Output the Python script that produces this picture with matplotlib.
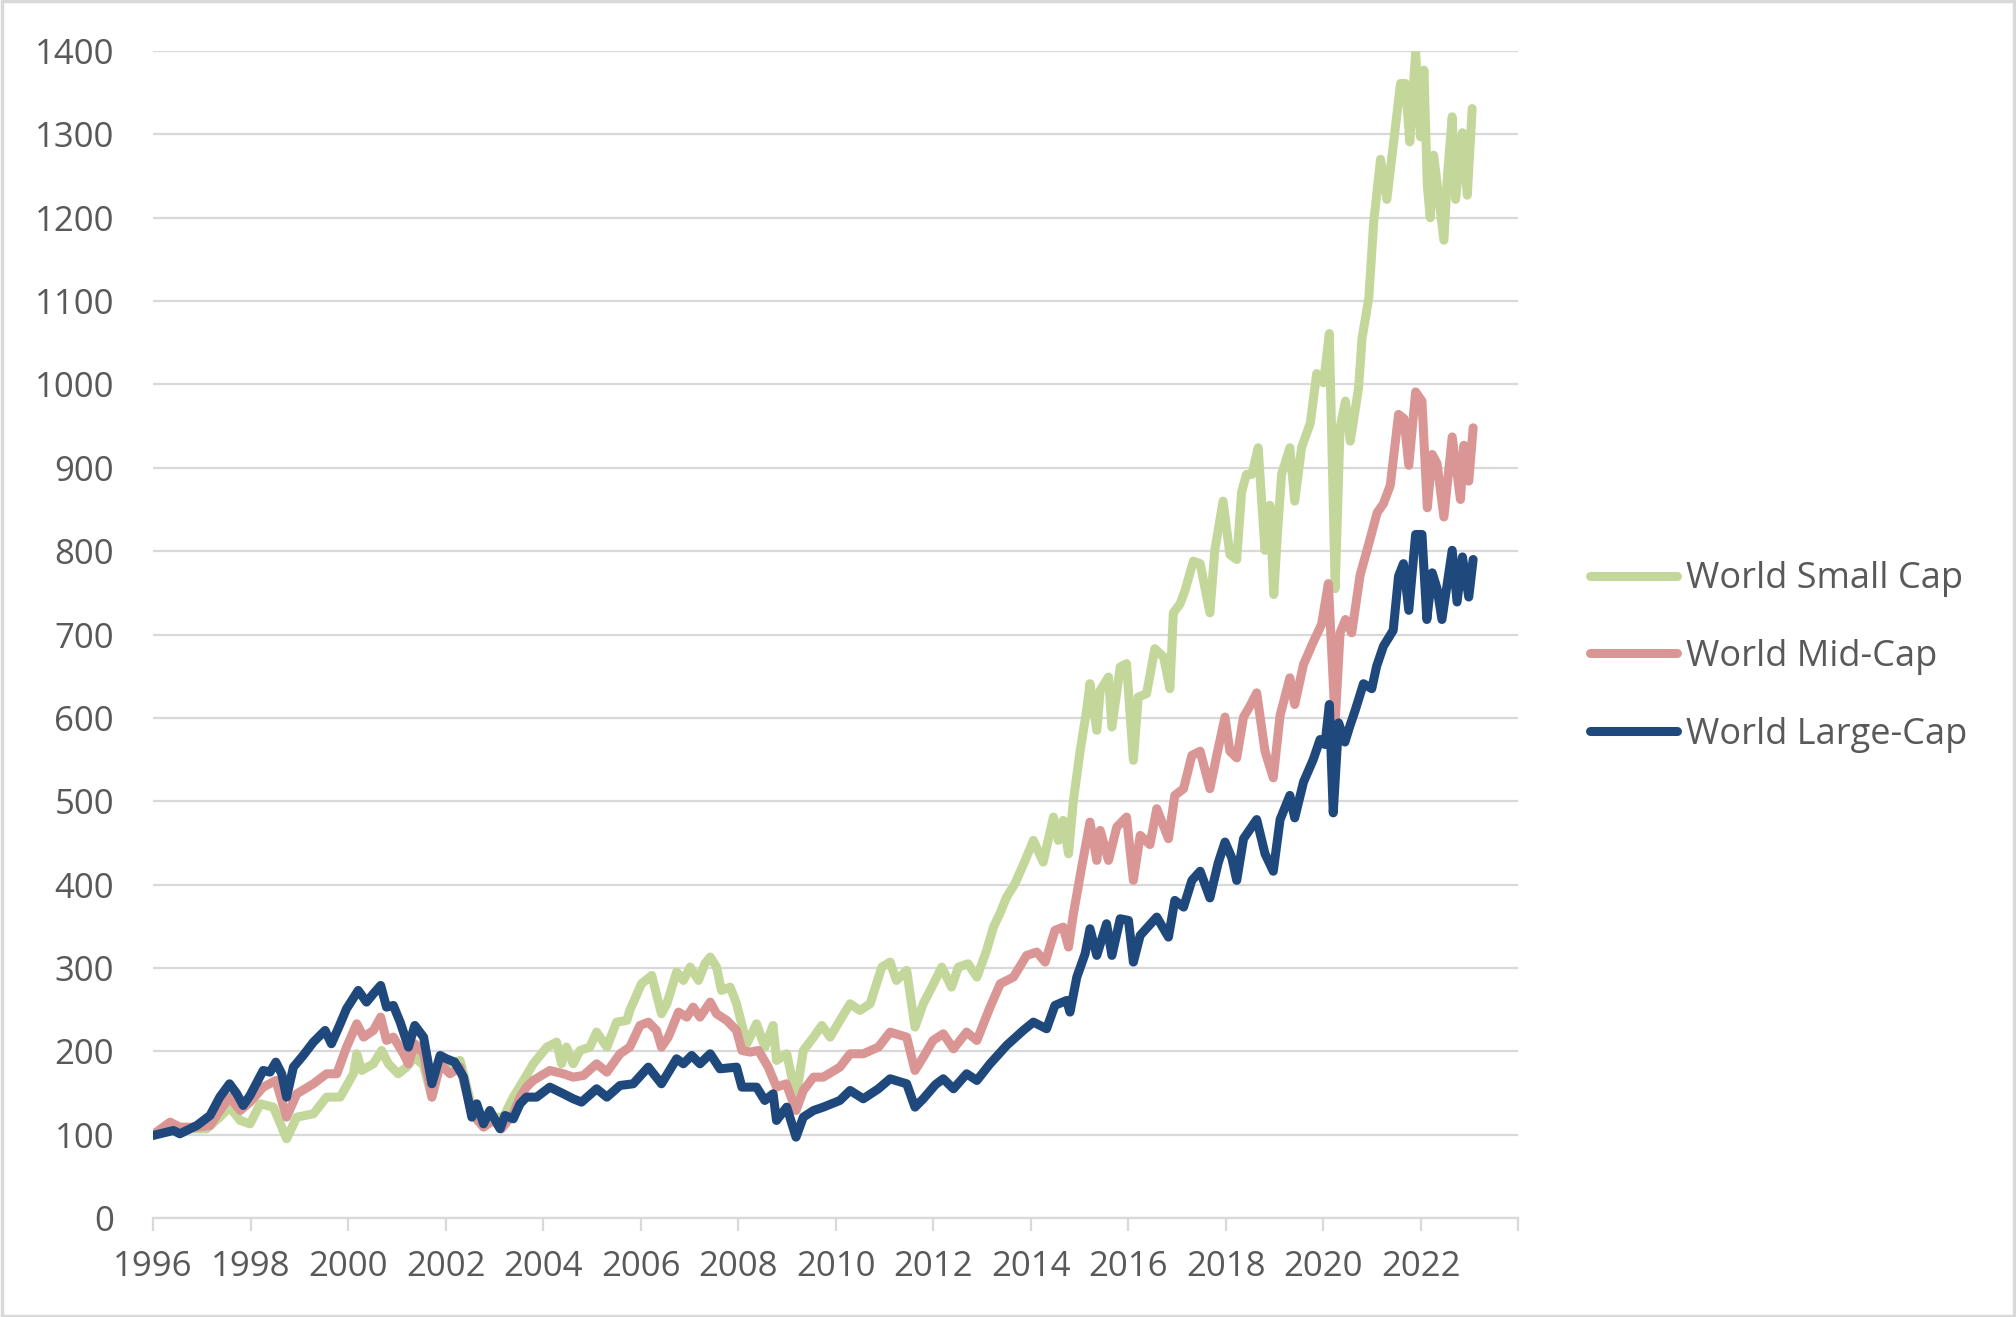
import matplotlib
matplotlib.use('Agg')
import matplotlib.pyplot as plt
from matplotlib.patches import Rectangle

# values (index level, start = 100)
small_dates = [1996.0, 1996.55, 1997.1, 1997.37, 1997.57, 1997.79, 1997.99, 1998.2, 1998.47, 1998.74,
               1998.95, 1999.29, 1999.56, 1999.84, 2000.11, 2000.18, 2000.28, 2000.52, 2000.69, 2000.83,
               2001.03, 2001.2, 2001.37, 2001.55, 2001.72, 2001.89, 2002.3, 2002.54, 2002.78, 2002.98,
               2003.19, 2003.39, 2003.6, 2003.8, 2004.08, 2004.28, 2004.38, 2004.48, 2004.62, 2004.76,
               2004.96, 2005.1, 2005.31, 2005.51, 2005.72, 2005.78, 2006.02, 2006.23, 2006.43, 2006.54,
               2006.74, 2006.88, 2007.02, 2007.19, 2007.32, 2007.43, 2007.56, 2007.66, 2007.84, 2007.97,
               2008.18, 2008.38, 2008.55, 2008.72, 2008.79, 2009.0, 2009.19, 2009.34, 2009.55, 2009.72,
               2009.89, 2010.09, 2010.3, 2010.5, 2010.71, 2010.95, 2011.12, 2011.25, 2011.46, 2011.63,
               2011.8, 2012.01, 2012.18, 2012.38, 2012.52, 2012.72, 2012.9, 2013.1, 2013.24, 2013.37,
               2013.51, 2013.68, 2013.89, 2014.06, 2014.26, 2014.47, 2014.57, 2014.67, 2014.78, 2014.88,
               2015.02, 2015.15, 2015.22, 2015.36, 2015.43, 2015.6, 2015.67, 2015.84, 2015.97, 2016.11,
               2016.21, 2016.38, 2016.55, 2016.73, 2016.86, 2016.93, 2017.07, 2017.17, 2017.34, 2017.48,
               2017.68, 2017.78, 2017.95, 2018.09, 2018.23, 2018.33, 2018.43, 2018.54, 2018.67, 2018.81,
               2018.91, 2018.99, 2019.07, 2019.15, 2019.32, 2019.42, 2019.56, 2019.74, 2019.87, 2020.01,
               2020.13, 2020.25, 2020.35, 2020.46, 2020.56, 2020.73, 2020.8, 2020.94, 2021.04, 2021.18,
               2021.31, 2021.45, 2021.59, 2021.69, 2021.78, 2021.9, 2022.0, 2022.07, 2022.14, 2022.2,
               2022.27, 2022.38, 2022.48, 2022.55, 2022.65, 2022.72, 2022.86, 2022.96, 2023.06]
small_vals = [100, 107, 107, 121, 133, 117, 113, 137, 133, 95,
              121, 125, 145, 145, 173, 197, 177, 185, 201, 185,
              173, 181, 193, 183, 145, 183, 189, 133, 117, 121,
              121, 145, 165, 185, 205, 211, 185, 205, 185, 201,
              205, 223, 205, 235, 237, 249, 281, 291, 245, 257,
              295, 285, 301, 285, 305, 313, 301, 273, 277, 257,
              209, 233, 205, 231, 189, 197, 145, 201, 217, 231,
              217, 237, 257, 249, 257, 301, 307, 285, 297, 229,
              257, 281, 301, 277, 301, 305, 289, 321, 349, 365,
              385, 401, 429, 453, 427, 481, 453, 477, 437, 501,
              561, 609, 641, 585, 633, 649, 589, 661, 665, 549,
              625, 629, 683, 673, 635, 726, 737, 753, 788, 785,
              726, 801, 860, 796, 790, 871, 892, 892, 924, 801,
              855, 748, 825, 892, 924, 860, 924, 954, 1013, 1002,
              1061, 755, 948, 980, 932, 996, 1055, 1104, 1195, 1270,
              1222, 1291, 1361, 1361, 1291, 1398, 1297, 1377, 1238, 1200,
              1275, 1222, 1173, 1248, 1321, 1222, 1302, 1227, 1331]

mid_dates = [1996.0, 1996.35, 1996.55, 1996.9, 1997.17, 1997.37, 1997.57, 1997.79, 1997.99, 1998.26,
             1998.52, 1998.74, 1998.95, 1999.29, 1999.56, 1999.77, 1999.97, 2000.18, 2000.32, 2000.52,
             2000.67, 2000.79, 2000.93, 2001.14, 2001.24, 2001.37, 2001.55, 2001.72, 2001.89, 2002.09,
             2002.3, 2002.54, 2002.78, 2002.98, 2003.15, 2003.39, 2003.53, 2003.66, 2003.8, 2004.14,
             2004.42, 2004.62, 2004.83, 2005.1, 2005.31, 2005.58, 2005.78, 2005.99, 2006.16, 2006.33,
             2006.43, 2006.57, 2006.78, 2006.95, 2007.08, 2007.22, 2007.43, 2007.56, 2007.77, 2007.97,
             2008.08, 2008.25, 2008.42, 2008.62, 2008.79, 2008.99, 2009.19, 2009.34, 2009.55, 2009.75,
             2010.09, 2010.3, 2010.57, 2010.88, 2011.12, 2011.46, 2011.63, 2011.8, 2012.0, 2012.21,
             2012.42, 2012.69, 2012.9, 2013.17, 2013.38, 2013.65, 2013.92, 2014.13, 2014.3, 2014.5,
             2014.67, 2014.78, 2014.88, 2015.05, 2015.22, 2015.36, 2015.43, 2015.6, 2015.77, 2015.97,
             2016.11, 2016.25, 2016.45, 2016.59, 2016.83, 2016.96, 2017.14, 2017.31, 2017.48, 2017.68,
             2017.82, 2017.99, 2018.09, 2018.23, 2018.37, 2018.5, 2018.64, 2018.81, 2018.98, 2019.12,
             2019.32, 2019.42, 2019.6, 2019.8, 2019.97, 2020.11, 2020.25, 2020.35, 2020.46, 2020.59,
             2020.76, 2020.94, 2021.11, 2021.24, 2021.38, 2021.55, 2021.66, 2021.76, 2021.9, 2022.03,
             2022.14, 2022.24, 2022.34, 2022.48, 2022.65, 2022.82, 2022.89, 2022.99, 2023.08]
mid_vals = [100, 115, 109, 109, 111, 129, 145, 129, 139, 157,
            165, 121, 149, 161, 173, 173, 205, 233, 217, 225,
            241, 213, 217, 197, 185, 209, 197, 145, 185, 173,
            181, 125, 109, 117, 107, 125, 145, 157, 165, 177,
            173, 169, 171, 185, 175, 197, 205, 231, 235, 225,
            205, 217, 247, 241, 253, 241, 259, 245, 237, 225,
            201, 199, 201, 181, 157, 161, 129, 153, 169, 169,
            181, 197, 197, 205, 223, 217, 177, 193, 213, 221,
            203, 223, 213, 253, 281, 289, 315, 319, 307, 345,
            349, 325, 365, 421, 475, 429, 465, 429, 469, 481,
            405, 459, 448, 491, 455, 507, 515, 555, 560, 515,
            555, 601, 560, 552, 601, 614, 630, 560, 528, 603,
            648, 616, 664, 691, 712, 761, 595, 702, 718, 702,
            771, 809, 846, 857, 879, 964, 959, 903, 991, 980,
            852, 916, 905, 841, 937, 862, 927, 884, 948]

large_dates = [1996.0, 1996.42, 1996.55, 1996.9, 1997.17, 1997.37, 1997.57, 1997.72, 1997.85, 1997.99,
               1998.26, 1998.4, 1998.52, 1998.64, 1998.74, 1998.88, 1999.08, 1999.29, 1999.53, 1999.66,
               1999.84, 1999.97, 2000.21, 2000.38, 2000.52, 2000.67, 2000.79, 2000.93, 2001.07, 2001.24,
               2001.37, 2001.55, 2001.72, 2001.89, 2002.02, 2002.19, 2002.37, 2002.54, 2002.64, 2002.78,
               2002.91, 2003.12, 2003.22, 2003.39, 2003.53, 2003.66, 2003.87, 2004.14, 2004.42, 2004.62,
               2004.79, 2005.1, 2005.31, 2005.58, 2005.85, 2006.16, 2006.43, 2006.74, 2006.88, 2007.05,
               2007.22, 2007.43, 2007.63, 2007.97, 2008.08, 2008.38, 2008.55, 2008.72, 2008.79, 2009.0,
               2009.19, 2009.34, 2009.55, 2009.75, 2010.09, 2010.3, 2010.57, 2010.88, 2011.12, 2011.46,
               2011.63, 2011.8, 2012.05, 2012.21, 2012.42, 2012.69, 2012.9, 2013.17, 2013.51, 2013.85,
               2014.06, 2014.33, 2014.5, 2014.74, 2014.81, 2014.95, 2015.12, 2015.22, 2015.36, 2015.56,
               2015.67, 2015.84, 2016.01, 2016.11, 2016.25, 2016.59, 2016.83, 2016.96, 2017.14, 2017.31,
               2017.48, 2017.68, 2017.85, 2017.99, 2018.13, 2018.23, 2018.37, 2018.64, 2018.81, 2018.98,
               2019.12, 2019.32, 2019.42, 2019.6, 2019.8, 2019.94, 2020.04, 2020.13, 2020.21, 2020.32,
               2020.45, 2020.55, 2020.66, 2020.83, 2021.0, 2021.1, 2021.24, 2021.44, 2021.55, 2021.65,
               2021.76, 2021.9, 2022.03, 2022.13, 2022.24, 2022.34, 2022.44, 2022.65, 2022.75, 2022.86,
               2022.99, 2023.08]
large_vals = [99, 105, 101, 111, 123, 145, 161, 149, 135, 147,
              177, 175, 187, 173, 145, 181, 195, 211, 225, 209,
              233, 251, 273, 259, 269, 279, 253, 255, 235, 205,
              231, 217, 161, 195, 191, 187, 169, 121, 137, 113,
              129, 107, 123, 119, 137, 145, 145, 157, 149, 143,
              139, 155, 145, 159, 161, 181, 161, 191, 185, 195,
              185, 197, 179, 181, 157, 157, 141, 149, 117, 133,
              97, 121, 129, 133, 141, 153, 143, 155, 167, 161,
              133, 143, 160, 167, 155, 173, 165, 185, 207, 225,
              235, 227, 255, 261, 247, 289, 317, 347, 315, 353,
              315, 359, 357, 307, 339, 361, 337, 381, 373, 405,
              416, 384, 426, 451, 432, 405, 455, 478, 437, 416,
              478, 507, 480, 523, 550, 574, 568, 616, 486, 594,
              571, 590, 609, 641, 635, 662, 686, 705, 770, 785,
              729, 820, 820, 718, 774, 755, 718, 801, 739, 793,
              745, 790]

series_names = ['World Small Cap', 'World Mid-Cap', 'World Large-Cap']
series_colors = ['#C4D79B', '#DA9694', '#1F497D']

year_ticks = list(range(1996, 2025, 2))
year_labels = [str(y) if y < 2024 else '' for y in year_ticks]
value_ticks = list(range(0, 1401, 100))

plt.rcParams['font.family'] = ['Open Sans', 'DejaVu Sans']
text_color = '#595959'
grid_color = '#D9D9D9'

fig = plt.figure(figsize=(20.16, 13.17), dpi=100)
ax = fig.add_axes([153 / 2016, 1 - 1218 / 1317, (1518 - 153) / 2016, (1218 - 51) / 1317])

for d, v, name, c in zip([small_dates, mid_dates, large_dates],
                         [small_vals, mid_vals, large_vals],
                         series_names, series_colors):
    ax.plot(d, v, color=c, lw=6.5, label=name, solid_joinstyle='round', solid_capstyle='round')

ax.set_xlim(1996, 2024)
ax.set_ylim(0, 1400)
ax.set_xticks(year_ticks)
ax.set_xticklabels(year_labels)
ax.set_yticks(value_ticks)

ax.yaxis.grid(True, color=grid_color, lw=1.6)
ax.set_axisbelow(True)
for s in ['top', 'right', 'left']:
    ax.spines[s].set_visible(False)
ax.spines['bottom'].set_color(grid_color)
ax.spines['bottom'].set_linewidth(1.6)

ax.tick_params(axis='x', colors=grid_color, length=9, width=1.6, direction='out',
               labelcolor=text_color, labelsize=25, pad=14)
ax.tick_params(axis='y', length=0, labelcolor=text_color, labelsize=25, pad=28)

fig.legend(loc='center left', bbox_to_anchor=(1590 / 2016, 1 - 657 / 1317),
           frameon=False, fontsize=26, handlelength=2.4, handletextpad=0.25,
           labelspacing=1.15, borderpad=0, borderaxespad=0, labelcolor=text_color)

# light frame around the whole chart
fig.patches.append(Rectangle((0.001, 0.001), 0.998, 0.998, transform=fig.transFigure,
                             fill=False, edgecolor=grid_color, lw=2.5))

fig.savefig('out.png', dpi=100)
